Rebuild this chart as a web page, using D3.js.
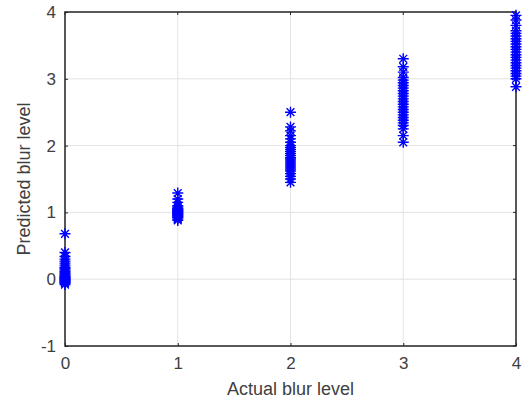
<!DOCTYPE html>
<html>
<head>
<meta charset="utf-8">
<script src="https://cdn.jsdelivr.net/npm/d3@7"></script>
<style>
  body { margin: 0; background: #fff; }
  svg text { font-family: "Liberation Sans", Arial, sans-serif; fill: #404040; }
</style>
</head>
<body>
<svg id="chart" width="530" height="404"></svg>
<script>
// predicted values for each actual blur level
var level0 = [0.68, 0.40, 0.34, 0.30, 0.27, 0.24, 0.21, 0.18, 0.16, 0.14, 0.12, 0.10, 0.08, 0.07, 0.05, 0.04, 0.03, 0.02, 0.01, 0.00, -0.01, -0.02, -0.03, -0.04, -0.05, -0.06, -0.08];
var level1 = [1.29, 1.20, 1.15, 1.10, 1.08, 1.06, 1.05, 1.04, 1.03, 1.02, 1.01, 1.00, 0.99, 0.98, 0.97, 0.96, 0.95, 0.94, 0.93, 0.92, 0.90, 0.88];
var level2 = [2.50, 2.28, 2.22, 2.15, 2.10, 2.05, 2.00, 1.97, 1.94, 1.91, 1.88, 1.85, 1.82, 1.80, 1.77, 1.74, 1.71, 1.68, 1.65, 1.62, 1.58, 1.54, 1.50, 1.45];
var level3 = [3.30, 3.18, 3.10, 3.02, 2.98, 2.94, 2.90, 2.86, 2.82, 2.78, 2.74, 2.70, 2.66, 2.62, 2.58, 2.54, 2.50, 2.46, 2.42, 2.38, 2.34, 2.30, 2.25, 2.15, 2.05];
var level4 = [3.95, 3.88, 3.80, 3.72, 3.68, 3.64, 3.60, 3.56, 3.52, 3.48, 3.44, 3.40, 3.36, 3.32, 3.28, 3.24, 3.20, 3.16, 3.12, 3.08, 3.04, 3.00, 2.88];

var xTicks = [0, 1, 2, 3, 4];
var yTicks = [-1, 0, 1, 2, 3, 4];

var points = [];
[level0, level1, level2, level3, level4].forEach(function(arr, i) {
  arr.forEach(function(v) { points.push({ actual: i, predicted: v }); });
});

var svg = d3.select("#chart"),
  margin = { top: 12, right: 14, bottom: 58, left: 65 },
  width = +svg.attr("width") - margin.left - margin.right,
  height = +svg.attr("height") - margin.top - margin.bottom;

var x = d3.scaleLinear().domain([0, 4]).range([0, width]);
var y = d3.scaleLinear().domain([-1, 4]).range([height, 0]);

var g = svg.append("g")
  .attr("transform", "translate(" + margin.left + "," + margin.top + ")");

// grid
g.append("g").selectAll("line")
  .data(xTicks)
  .enter().append("line")
  .attr("x1", function(d) { return x(d); })
  .attr("x2", function(d) { return x(d); })
  .attr("y1", 0).attr("y2", height)
  .attr("stroke", "#e3e3e3").attr("stroke-width", 1);

g.append("g").selectAll("line")
  .data(yTicks)
  .enter().append("line")
  .attr("y1", function(d) { return y(d); })
  .attr("y2", function(d) { return y(d); })
  .attr("x1", 0).attr("x2", width)
  .attr("stroke", "#e3e3e3").attr("stroke-width", 1);

// axes (ticks point inward like matlab)
var fmt = function(d) { return String(d); };
var xAxis = g.append("g")
  .attr("transform", "translate(0," + height + ")")
  .call(d3.axisBottom(x).tickValues(xTicks).tickSize(-3).tickPadding(11).tickFormat(fmt));
var yAxis = g.append("g")
  .call(d3.axisLeft(y).tickValues(yTicks).tickSize(-3).tickPadding(9).tickFormat(fmt));

[xAxis, yAxis].forEach(function(a) {
  a.select(".domain").remove();
  a.selectAll(".tick line").attr("stroke", "#262626");
  a.selectAll("text").style("font-size", "17px").attr("fill", "#404040");
});

// top/right ticks
g.append("g").selectAll("line")
  .data(xTicks)
  .enter().append("line")
  .attr("x1", function(d) { return x(d); })
  .attr("x2", function(d) { return x(d); })
  .attr("y1", 0).attr("y2", 3)
  .attr("stroke", "#262626");
g.append("g").selectAll("line")
  .data(yTicks)
  .enter().append("line")
  .attr("y1", function(d) { return y(d); })
  .attr("y2", function(d) { return y(d); })
  .attr("x1", width).attr("x2", width - 3)
  .attr("stroke", "#262626");

// box
g.append("rect")
  .attr("width", width).attr("height", height)
  .attr("fill", "none")
  .attr("stroke", "#262626")
  .attr("stroke-width", 1.5);

// star markers
var r = 5.5, d2 = r * 0.707;
var star = "M" + (-r) + ",0L" + r + ",0M0," + (-r) + "L0," + r +
  "M" + (-d2) + "," + (-d2) + "L" + d2 + "," + d2 +
  "M" + (-d2) + "," + d2 + "L" + d2 + "," + (-d2);

g.selectAll(".pt")
  .data(points)
  .enter().append("path")
  .attr("class", "pt")
  .attr("d", star)
  .attr("transform", function(d) { return "translate(" + x(d.actual) + "," + y(d.predicted) + ")"; })
  .attr("fill", "none")
  .attr("stroke", "#0000ff")
  .attr("stroke-width", 1.4);

// labels
svg.append("text")
  .attr("x", margin.left + width / 2)
  .attr("y", 395)
  .attr("text-anchor", "middle")
  .style("font-size", "18px")
  .text("Actual blur level");

svg.append("text")
  .attr("transform", "translate(30," + (margin.top + height / 2) + ") rotate(-90)")
  .attr("text-anchor", "middle")
  .style("font-size", "18px")
  .text("Predicted blur level");
</script>
</body>
</html>
